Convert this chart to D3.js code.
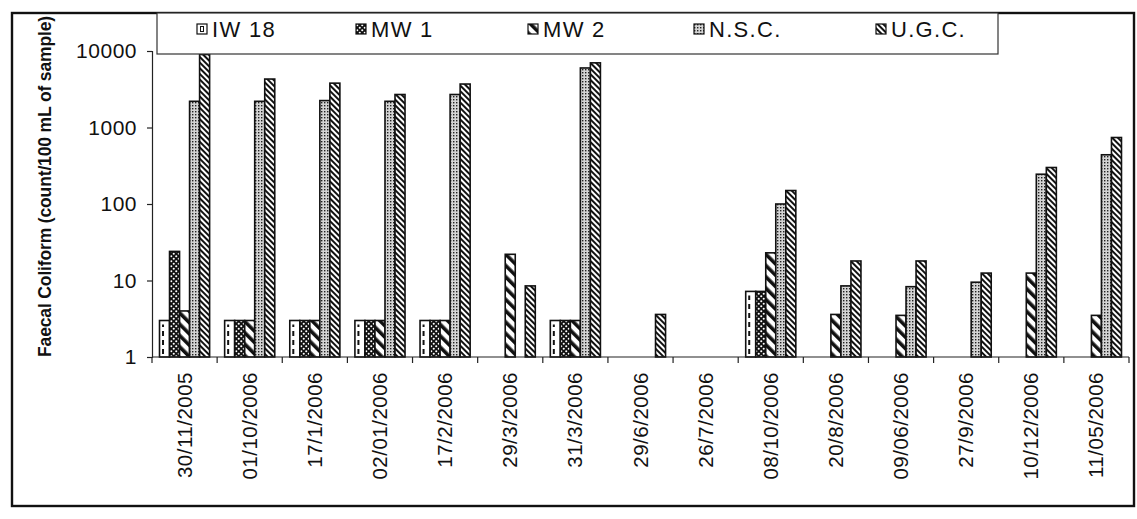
<!DOCTYPE html>
<html>
<head>
<meta charset="utf-8">
<script src="https://cdn.jsdelivr.net/npm/d3@7/dist/d3.min.js"></script>
<style>
  html, body { margin: 0; padding: 0; background: #fff; }
  svg { display: block; }
  text { font-family: "Liberation Sans", Arial, sans-serif; fill: #111; }
</style>
</head>
<body>
<svg id="chart" width="1137" height="519"></svg>
<script>
// ---- data ----
const categories = ["30/11/2005","01/10/2006","17/1/2006","02/01/2006","17/2/2006","29/3/2006","31/3/2006","29/6/2006","26/7/2006","08/10/2006","20/8/2006","09/06/2006","27/9/2006","10/12/2006","11/05/2006"];
const seriesNames = ["IW 18","MW 1","MW 2","N.S.C.","U.G.C."];
const iw18 = [3, 3, 3, 3, 3, null, 3, null, null, 7.2, null, null, null, null, null];
const mw1  = [24, 3, 3, 3, 3, null, 3, null, null, 7.2, null, null, null, null, null];
const mw2  = [4, 3, 3, 3, 3, 22, 3, null, null, 23, 3.6, 3.5, null, 12.5, 3.5];
const nsc  = [2200, 2200, 2250, 2200, 2700, null, 6000, null, null, 100, 8.5, 8.3, 9.5, 245, 440];
const ugc  = [9000, 4300, 3800, 2700, 3700, 8.5, 7000, 3.6, null, 150, 18, 18, 12.5, 300, 740];
const yTicks = [1, 10, 100, 1000, 10000];
const yTickLabels = ["1", "10", "100", "1000", "10000"];
const yTitle = "Faecal Coliform (count/100 mL of sample)";

const seriesValues = [iw18, mw1, mw2, nsc, ugc];
const patternIds = ["pIW", "pMW1", "pMW2", "pNSC", "pUGC"];

// ---- layout ----
const svg = d3.select("#chart");
const plot = { left: 152, right: 1129, top: 51, bottom: 357 };

const x = d3.scaleBand().domain(categories).range([plot.left, plot.right]).paddingInner(0).paddingOuter(0);
const xs = d3.scaleBand().domain(seriesNames).range([0, x.bandwidth()]).paddingInner(0).paddingOuter(0.75);
const y = d3.scaleLog().domain([1, 10000]).range([plot.bottom, plot.top]);

// ---- patterns ----
const defs = svg.append("defs");
const p1 = defs.append("pattern").attr("id", "pMW1").attr("patternUnits", "userSpaceOnUse").attr("width", 5).attr("height", 5);
p1.append("rect").attr("width", 5).attr("height", 5).attr("fill", "#111");
p1.append("circle").attr("cx", 1.25).attr("cy", 1.25).attr("r", 1.05).attr("fill", "#fff");
p1.append("circle").attr("cx", 3.75).attr("cy", 3.75).attr("r", 1.05).attr("fill", "#fff");
const p2 = defs.append("pattern").attr("id", "pMW2").attr("patternUnits", "userSpaceOnUse").attr("width", 8).attr("height", 8).attr("patternTransform", "rotate(-45)");
p2.append("rect").attr("width", 8).attr("height", 8).attr("fill", "#fff");
p2.append("rect").attr("width", 3.6).attr("height", 8).attr("fill", "#111");
const p3 = defs.append("pattern").attr("id", "pNSC").attr("patternUnits", "userSpaceOnUse").attr("width", 3).attr("height", 3);
p3.append("rect").attr("width", 3).attr("height", 3).attr("fill", "#d4d4d4");
p3.append("rect").attr("width", 1.4).attr("height", 1.4).attr("fill", "#222");
const p4 = defs.append("pattern").attr("id", "pUGC").attr("patternUnits", "userSpaceOnUse").attr("width", 4).attr("height", 4).attr("patternTransform", "rotate(-45)");
p4.append("rect").attr("width", 4).attr("height", 4).attr("fill", "#fff");
p4.append("rect").attr("width", 2).attr("height", 4).attr("fill", "#111");
const p0 = defs.append("pattern").attr("id", "pIW").attr("patternUnits", "userSpaceOnUse").attr("width", 4).attr("height", 4);
p0.append("rect").attr("width", 4).attr("height", 4).attr("fill", "#fff");

// ---- outer frame ----
svg.append("rect").attr("x", 12).attr("y", 13).attr("width", 1122).attr("height", 493)
  .attr("fill", "none").attr("stroke", "#111").attr("stroke-width", 2.4);

// ---- bars ----
const bars = [];
seriesValues.forEach((vals, si) => {
  vals.forEach((v, ci) => {
    if (v != null) bars.push({ s: si, c: ci, v: v });
  });
});
const g = svg.append("g");
g.selectAll("rect.bar").data(bars).join("rect")
  .attr("class", "bar")
  .attr("x", d => x(categories[d.c]) + xs(seriesNames[d.s]))
  .attr("y", d => y(d.v))
  .attr("width", xs.bandwidth())
  .attr("height", d => y(1) - y(d.v))
  .attr("fill", d => `url(#${patternIds[d.s]})`)
  .attr("stroke", "#111").attr("stroke-width", 1.6);
g.selectAll("line.dash").data(bars.filter(d => d.s === 0)).join("line")
  .attr("class", "dash")
  .attr("x1", d => x(categories[d.c]) + xs(seriesNames[0]) + xs.bandwidth() * 0.35)
  .attr("x2", d => x(categories[d.c]) + xs(seriesNames[0]) + xs.bandwidth() * 0.35)
  .attr("y1", d => y(1) - 3)
  .attr("y2", d => y(d.v) + 4)
  .attr("stroke", "#111").attr("stroke-width", 2).attr("stroke-dasharray", "5,4");

// ---- y axis ----
const yAxis = d3.axisLeft(y).tickValues(yTicks).tickFormat((d, i) => yTickLabels[i]).tickSize(5).tickPadding(10);
const ya = svg.append("g").attr("transform", `translate(${plot.left},0)`).call(yAxis);
ya.select(".domain").attr("stroke", "#222").attr("stroke-width", 1.2);
ya.selectAll(".tick line").attr("stroke", "#222").attr("stroke-width", 1.2);
ya.selectAll(".tick text").attr("font-size", 21).attr("font-family", "Liberation Sans, Arial, sans-serif")
  .attr("fill", "#111").style("letter-spacing", "0.5px");

// ---- x axis ----
svg.append("line").attr("x1", plot.left).attr("x2", plot.right).attr("y1", y(1)).attr("y2", y(1))
  .attr("stroke", "#222").attr("stroke-width", 1.2);
const boundaries = categories.map(c => x(c)).concat([x(categories[categories.length - 1]) + x.bandwidth()]);
svg.selectAll("line.xtick").data(boundaries).join("line").attr("class", "xtick")
  .attr("x1", d => d).attr("x2", d => d).attr("y1", y(1)).attr("y2", y(1) + 6)
  .attr("stroke", "#222").attr("stroke-width", 1.2);
svg.selectAll("text.xlab").data(categories).join("text").attr("class", "xlab")
  .attr("transform", d => `translate(${x(d) + x.bandwidth() / 2 + 7},${y(1) + 15}) rotate(-90)`)
  .attr("text-anchor", "end")
  .attr("font-size", 20.5)
  .style("letter-spacing", "0.5px")
  .text(d => d);

// ---- y title ----
svg.append("text")
  .attr("transform", `translate(51,${(20 + 353) / 2}) rotate(-90)`)
  .attr("text-anchor", "middle")
  .attr("font-size", 17.5).attr("font-weight", "bold")
  .style("letter-spacing", "-0.15px")
  .text(yTitle);

// ---- legend ----
const legend = svg.append("g");
legend.append("rect").attr("x", 157).attr("y", 13).attr("width", 841).attr("height", 41)
  .attr("fill", "#fff").attr("stroke", "#333").attr("stroke-width", 1.2);
const legendX = [197, 356, 528, 694, 876];
const li = legend.selectAll("g.item").data(seriesNames).join("g").attr("class", "item")
  .attr("transform", (d, i) => `translate(${legendX[i]},24)`);
li.append("rect").attr("width", 10).attr("height", 10)
  .attr("fill", (d, i) => `url(#${patternIds[i]})`)
  .attr("stroke", "#111").attr("stroke-width", 1.2);
li.filter((d, i) => i === 0).append("rect").attr("x", 3.5).attr("y", 2.5).attr("width", 3).attr("height", 5)
  .attr("fill", "none").attr("stroke", "#111").attr("stroke-width", 1);
li.append("text").attr("x", 15).attr("y", 12.5)
  .attr("font-size", 22).style("letter-spacing", "1.3px")
  .text(d => d);
</script>
</body>
</html>
